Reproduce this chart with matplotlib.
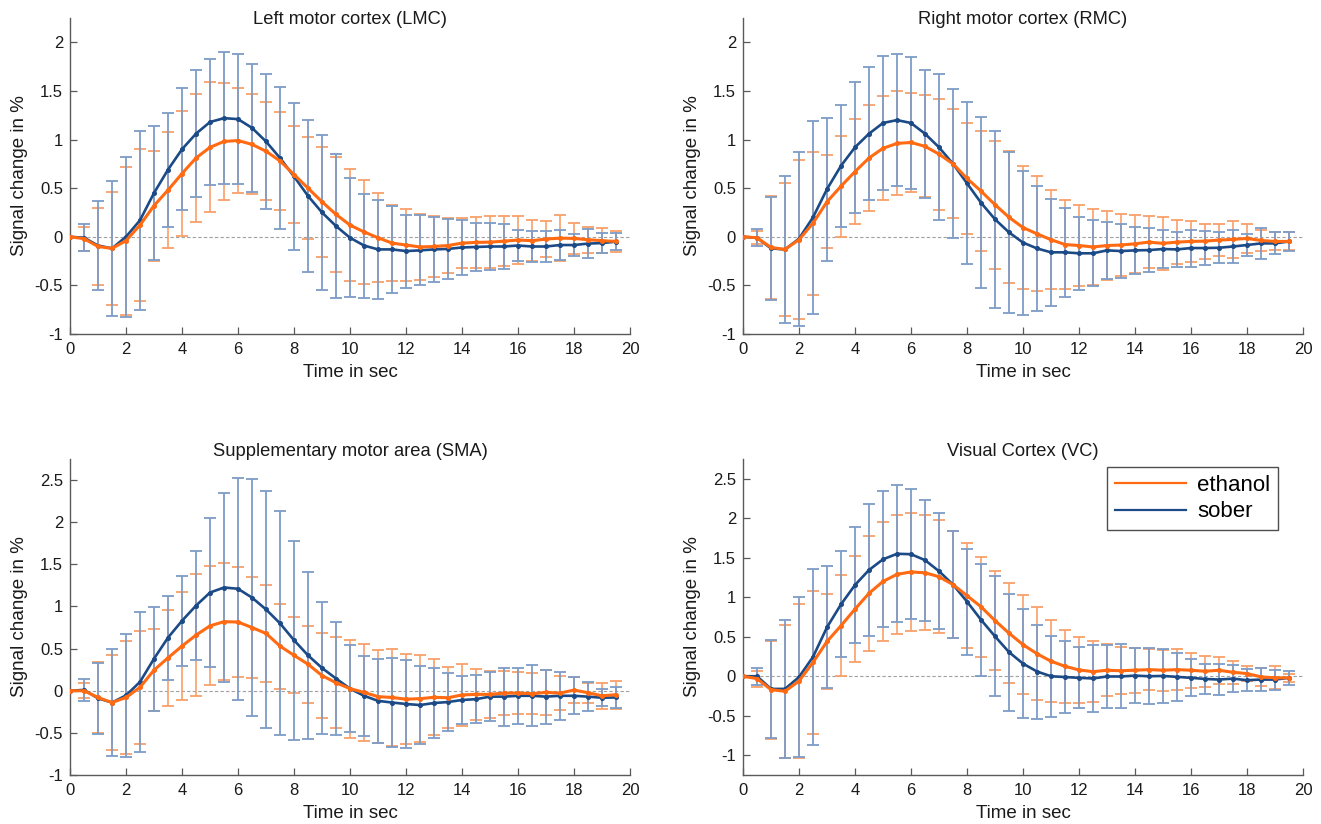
import numpy as np
import matplotlib
matplotlib.use("Agg")
import matplotlib.pyplot as plt

plt.rcParams['font.family'] = ['Liberation Sans', 'DejaVu Sans']
plt.rcParams['axes.unicode_minus'] = False

time = np.arange(40) * 0.5

titles = ["Left motor cortex (LMC)", "Right motor cortex (RMC)",
          "Supplementary motor area (SMA)", "Visual Cortex (VC)"]
series_names = ["ethanol", "sober"]

# ---- LMC ----
lmc_eth = [0, -0.02, -0.10, -0.12, -0.04, 0.12, 0.32, 0.48, 0.65, 0.81, 0.92, 0.98, 0.99, 0.95, 0.88, 0.78,
           0.64, 0.50, 0.36, 0.23, 0.12, 0.05, -0.01, -0.065, -0.085, -0.105, -0.10, -0.09, -0.065, -0.058,
           -0.055, -0.045, -0.034, -0.04, -0.024, -0.014, -0.017, -0.03, -0.04, -0.048]
lmc_eth_err = [0, 0.125, 0.40, 0.58, 0.76, 0.78, 0.565, 0.60, 0.64, 0.66, 0.67, 0.605, 0.54, 0.515, 0.505, 0.50,
               0.495, 0.525, 0.565, 0.595, 0.58, 0.535, 0.458, 0.393, 0.37, 0.34, 0.315, 0.28, 0.26, 0.26,
               0.265, 0.26, 0.25, 0.21, 0.185, 0.235, 0.163, 0.135, 0.13, 0.11]
lmc_sob = [0, -0.01, -0.09, -0.12, 0.0, 0.17, 0.45, 0.69, 0.90, 1.06, 1.18, 1.22, 1.21, 1.12, 0.98, 0.81,
           0.62, 0.42, 0.25, 0.11, -0.01, -0.09, -0.13, -0.13, -0.147, -0.14, -0.13, -0.125, -0.11, -0.105,
           -0.10, -0.10, -0.09, -0.10, -0.10, -0.085, -0.085, -0.07, -0.065, -0.05]
lmc_sob_err = [0, 0.14, 0.46, 0.69, 0.825, 0.92, 0.685, 0.585, 0.625, 0.655, 0.65, 0.68, 0.665, 0.66, 0.695, 0.73,
               0.755, 0.78, 0.80, 0.74, 0.61, 0.535, 0.51, 0.45, 0.375, 0.36, 0.335, 0.31, 0.28, 0.25,
               0.24, 0.23, 0.16, 0.155, 0.155, 0.155, 0.117, 0.145, 0.105, 0.09]

# ---- RMC ----
rmc_eth = [0, -0.01, -0.11, -0.13, -0.03, 0.14, 0.36, 0.52, 0.67, 0.81, 0.91, 0.96, 0.97, 0.93, 0.85, 0.75,
           0.60, 0.47, 0.33, 0.20, 0.095, 0.03, -0.03, -0.08, -0.09, -0.105, -0.09, -0.085, -0.072, -0.055,
           -0.068, -0.055, -0.048, -0.045, -0.034, -0.027, -0.017, -0.038, -0.048, -0.048]
rmc_eth_err = [0, 0.065, 0.525, 0.68, 0.82, 0.735, 0.48, 0.52, 0.54, 0.55, 0.535, 0.535, 0.51, 0.525, 0.57, 0.56,
               0.575, 0.615, 0.66, 0.68, 0.63, 0.59, 0.51, 0.46, 0.415, 0.395, 0.35, 0.32, 0.30, 0.27,
               0.27, 0.23, 0.21, 0.18, 0.165, 0.19, 0.145, 0.11, 0.093, 0.093]
rmc_sob = [0, -0.01, -0.12, -0.13, -0.02, 0.20, 0.49, 0.73, 0.92, 1.06, 1.17, 1.20, 1.17, 1.06, 0.92, 0.75,
           0.55, 0.35, 0.18, 0.045, -0.06, -0.12, -0.16, -0.16, -0.17, -0.17, -0.14, -0.147, -0.14, -0.137,
           -0.126, -0.13, -0.116, -0.116, -0.113, -0.10, -0.085, -0.068, -0.068, -0.048]
rmc_sob_err = [0, 0.09, 0.53, 0.76, 0.895, 0.995, 0.735, 0.63, 0.675, 0.685, 0.685, 0.675, 0.675, 0.66, 0.75, 0.765,
               0.835, 0.88, 0.91, 0.825, 0.74, 0.645, 0.55, 0.46, 0.375, 0.34, 0.295, 0.275, 0.24, 0.225,
               0.20, 0.18, 0.19, 0.175, 0.16, 0.165, 0.117, 0.16, 0.114, 0.095]

# ---- SMA ----
sma_eth = [0, 0.0, -0.08, -0.14, -0.08, 0.04, 0.245, 0.39, 0.53, 0.66, 0.77, 0.82, 0.815, 0.75, 0.68, 0.53,
           0.42, 0.315, 0.18, 0.095, 0.025, -0.02, -0.07, -0.08, -0.10, -0.094, -0.078, -0.083, -0.05, -0.043,
           -0.043, -0.028, -0.028, -0.035, -0.02, -0.028, 0.008, -0.024, -0.06, -0.047]
sma_eth_err = [0, 0.09, 0.42, 0.565, 0.67, 0.67, 0.49, 0.57, 0.64, 0.725, 0.705, 0.69, 0.65, 0.60, 0.58, 0.505,
               0.45, 0.455, 0.50, 0.54, 0.58, 0.58, 0.55, 0.58, 0.53, 0.52, 0.45, 0.365, 0.37, 0.30,
               0.275, 0.26, 0.247, 0.245, 0.27, 0.206, 0.153, 0.12, 0.153, 0.165]
sma_sob = [0, 0.01, -0.09, -0.14, -0.055, 0.105, 0.38, 0.63, 0.83, 1.01, 1.165, 1.225, 1.21, 1.105, 0.965, 0.80,
           0.60, 0.42, 0.27, 0.145, 0.025, -0.06, -0.12, -0.14, -0.157, -0.17, -0.146, -0.134, -0.11, -0.10,
           -0.07, -0.07, -0.06, -0.06, -0.07, -0.06, -0.06, -0.07, -0.083, -0.08]
sma_sob_err = [0, 0.13, 0.42, 0.63, 0.73, 0.83, 0.615, 0.50, 0.535, 0.645, 0.885, 1.12, 1.315, 1.405, 1.41, 1.33,
               1.18, 0.99, 0.785, 0.675, 0.515, 0.475, 0.50, 0.525, 0.525, 0.46, 0.42, 0.345, 0.29, 0.285,
               0.295, 0.345, 0.335, 0.36, 0.32, 0.283, 0.22, 0.17, 0.10, 0.12]

# ---- VC ----
vc_eth = [0, -0.03, -0.17, -0.19, -0.06, 0.175, 0.44, 0.64, 0.85, 1.05, 1.20, 1.29, 1.32, 1.31, 1.26, 1.16,
          1.02, 0.88, 0.705, 0.545, 0.40, 0.285, 0.19, 0.126, 0.08, 0.058, 0.076, 0.07, 0.076, 0.084,
          0.076, 0.084, 0.076, 0.063, 0.076, 0.05, 0.034, -0.008, -0.02, -0.02]
vc_eth_err = [0, 0.10, 0.62, 0.84, 0.97, 0.90, 0.605, 0.64, 0.675, 0.73, 0.755, 0.75, 0.745, 0.73, 0.715, 0.68,
              0.665, 0.63, 0.63, 0.635, 0.63, 0.59, 0.52, 0.46, 0.42, 0.385, 0.33, 0.295, 0.285, 0.263,
              0.26, 0.26, 0.22, 0.195, 0.17, 0.143, 0.10, 0.11, 0.147, 0.05]
vc_sob = [0, 0.0, -0.16, -0.16, -0.01, 0.245, 0.62, 0.91, 1.155, 1.345, 1.48, 1.55, 1.545, 1.47, 1.33, 1.16,
          0.945, 0.715, 0.505, 0.305, 0.16, 0.06, 0.0, -0.01, -0.02, -0.028, -0.003, -0.003, 0.008, 0.0,
          0.004, -0.008, -0.02, -0.034, -0.042, -0.03, -0.05, -0.042, -0.042, -0.02]
vc_sob_err = [0, 0.105, 0.625, 0.87, 1.01, 1.11, 0.77, 0.67, 0.735, 0.84, 0.86, 0.865, 0.82, 0.765, 0.735, 0.68,
              0.67, 0.71, 0.76, 0.74, 0.69, 0.595, 0.51, 0.45, 0.385, 0.42, 0.40, 0.405, 0.35, 0.357,
              0.34, 0.30, 0.235, 0.195, 0.195, 0.17, 0.143, 0.15, 0.126, 0.09]

panels = [
    (lmc_eth, lmc_eth_err, lmc_sob, lmc_sob_err, (-1, 2.25), np.arange(-1, 2.01, 0.5)),
    (rmc_eth, rmc_eth_err, rmc_sob, rmc_sob_err, (-1, 2.25), np.arange(-1, 2.01, 0.5)),
    (sma_eth, sma_eth_err, sma_sob, sma_sob_err, (-1, 2.75), np.arange(-1, 2.51, 0.5)),
    (vc_eth, vc_eth_err, vc_sob, vc_sob_err, (-1.25, 2.75), np.arange(-1, 2.51, 0.5)),
]

W, H = 1321, 824
fig = plt.figure(figsize=(W / 100, H / 100), dpi=100)

rects_px = [(70, 18), (743, 18), (70, 459), (743, 459)]
aw, ah = 560, 316
title_y = [0.994, 0.994, 1.025, 1.025]

ORANGE = '#FF6A12'
ORANGE_ERR = '#F9A06A'
BLUE = '#1B4A86'
BLUE_ERR = '#7E9CC6'

def fmt(v):
    return '%g' % round(v, 3)

for i, (eth, eth_e, sob, sob_e, ylim, yt) in enumerate(panels):
    x0, y0 = rects_px[i]
    ax = fig.add_axes([x0 / W, 1 - (y0 + ah) / H, aw / W, ah / H])
    ax.axhline(0, color='#a0a0a0', lw=0.8, ls=(0, (3, 2)), zorder=1)
    ax.errorbar(time, eth, yerr=eth_e, fmt='none', ecolor=ORANGE_ERR, elinewidth=1.2,
                capsize=4.2, capthick=1.3, zorder=2)
    ax.errorbar(time, sob, yerr=sob_e, fmt='none', ecolor=BLUE_ERR, elinewidth=1.3,
                capsize=4.2, capthick=1.3, zorder=3)
    ax.plot(time, sob, color=BLUE, lw=1.9, marker='o', ms=2.6, zorder=4, label=series_names[1])
    ax.plot(time, eth, color=ORANGE, lw=2.2, marker='o', ms=2.6, zorder=5, label=series_names[0])
    ax.set_xlim(0, 20)
    ax.set_ylim(*ylim)
    ax.set_xticks(np.arange(0, 21, 2))
    ax.set_yticks(yt)
    ax.set_yticklabels([fmt(v) for v in yt])
    ax.spines['top'].set_visible(False)
    ax.spines['right'].set_visible(False)
    for sp in ('left', 'bottom'):
        ax.spines[sp].set_color('#5a5a5a')
        ax.spines[sp].set_linewidth(1.0)
    ax.tick_params(direction='in', length=5, width=0.9, color='#5a5a5a',
                   labelsize=12, labelcolor='#1a1a1a')
    ax.tick_params(axis='x', pad=6)
    ax.tick_params(axis='y', pad=5)
    ax.text(0.5, title_y[i], titles[i], transform=ax.transAxes, ha='center', va='center',
            fontsize=13.2, color='#1a1a1a')
    ax.set_xlabel("Time in sec", fontsize=13.5, color='#1a1a1a')
    ax.xaxis.set_label_coords(0.5, -0.095)
    ax.set_ylabel("Signal change in %", fontsize=13.5, color='#1a1a1a')
    ax.yaxis.set_label_coords(-0.075, 0.5)
    if i == 3:
        leg_lines = [plt.Line2D([], [], color=ORANGE, lw=1.6),
                     plt.Line2D([], [], color=BLUE, lw=1.6)]
        leg = ax.legend(leg_lines, series_names, loc='upper right',
                        bbox_to_anchor=((1278 - 743) / aw, (775 - 467) / ah),
                        fontsize=16, frameon=True, fancybox=False, handlelength=3.2,
                        borderpad=0.35, labelspacing=0.25, handletextpad=0.5, borderaxespad=0)
        leg.get_frame().set_edgecolor('#222222')
        leg.get_frame().set_linewidth(1.0)

fig.savefig("out.png", dpi=100)
